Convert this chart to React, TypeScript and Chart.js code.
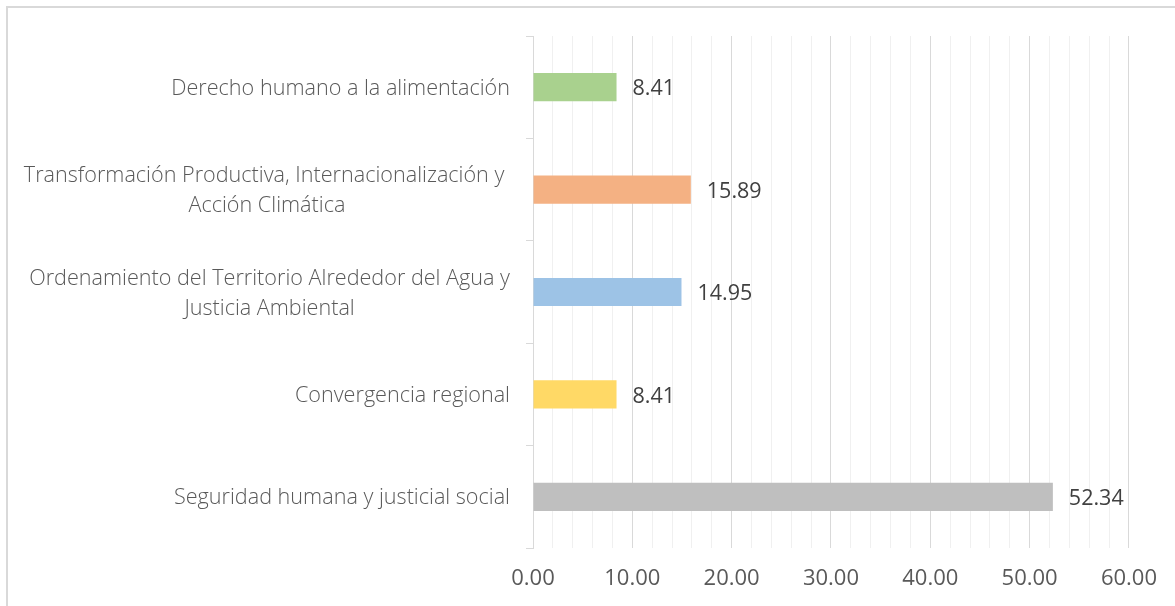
import React, { useEffect, useRef } from "react";
import { Chart, registerables } from "chart.js";

Chart.register(...registerables);

const categories: string[][] = [
  ["Derecho humano a la alimentación"],
  ["Transformación Productiva, Internacionalización y ", "Acción Climática"],
  ["Ordenamiento del Territorio Alrededor del Agua y", "Justicia Ambiental"],
  ["Convergencia regional"],
  ["Seguridad humana y justicial social"],
];
const values: number[] = [8.41, 15.89, 14.95, 8.41, 52.34];
const barColors: string[] = ["#a9d18e", "#f4b183", "#9dc3e6", "#ffd966", "#bfbfbf"];
const xTickLabels: string[] = ["0.00", "10.00", "20.00", "30.00", "40.00", "50.00", "60.00"];

const FONT = "'Open Sans', Lato, sans-serif";

export default function App() {
  const ref = useRef<HTMLCanvasElement | null>(null);

  useEffect(() => {
    document.body.style.margin = "0";
    const canvas = ref.current!;
    const framePlugin = {
      id: "frame",
      beforeDraw(chart: any) {
        const ctx = chart.ctx;
        ctx.save();
        ctx.fillStyle = "#ffffff";
        ctx.fillRect(0, 0, chart.width, chart.height);
        ctx.strokeStyle = "#d9d9d9";
        ctx.lineWidth = 2;
        ctx.beginPath();
        ctx.moveTo(7, chart.height);
        ctx.lineTo(7, 7);
        ctx.lineTo(chart.width, 7);
        ctx.stroke();
        ctx.restore();
      },
    };
    const labelPlugin = {
      id: "labels",
      afterDraw(chart: any) {
        const ctx = chart.ctx;
        const yScale = chart.scales.y;
        ctx.save();
        ctx.font = `300 21.6px ${FONT}`;
        ctx.fillStyle = "#595959";
        ctx.textBaseline = "middle";
        ctx.textAlign = "center";
        const right = yScale.right - 23;
        const lh = 30;
        categories.forEach((lines, i) => {
          const cy = yScale.getPixelForTick(i) + 1.5;
          const maxW = Math.max(...lines.map((l) => ctx.measureText(l).width));
          const cx = right - maxW / 2;
          const y0 = cy - ((lines.length - 1) * lh) / 2;
          lines.forEach((l, j) => ctx.fillText(l, cx, y0 + j * lh));
        });
        // value labels
        const meta = chart.getDatasetMeta(0);
        ctx.font = `21.5px ${FONT}`;
        ctx.fillStyle = "#404040";
        ctx.textAlign = "left";
        meta.data.forEach((bar: any, i: number) => {
          ctx.fillText(values[i].toFixed(2), bar.x + 16, bar.y + 2);
        });
        ctx.restore();
      },
    };

    const chart = new Chart(canvas, {
      type: "bar",
      data: {
        labels: categories.map((c) => c.join(" ")),
        datasets: [
          {
            data: values,
            backgroundColor: barColors,
            borderWidth: 0,
            barPercentage: 0.55,
            categoryPercentage: 0.5,
          },
        ],
      },
      options: {
        indexAxis: "y",
        animation: false,
        responsive: false,
        maintainAspectRatio: false,
        layout: { padding: { left: 0, right: 46, top: 36, bottom: 0 } },
        plugins: {
          legend: { display: false },
          tooltip: { enabled: false },
        },
        scales: {
          x: {
            min: 0,
            max: 60,
            border: { display: false },
            ticks: {
              stepSize: 2,
              autoSkip: false,
              maxRotation: 0,
              padding: 18,
              color: "#595959",
              font: { family: FONT, size: 22 },
              callback: (v: any) => {
                const n = Number(v);
                return n % 10 === 0 ? xTickLabels[n / 10] : "";
              },
            },
            grid: {
              drawTicks: false,
              lineWidth: 1,
              color: (c: any) => (c.tick && c.tick.value % 10 === 0 ? "#d9d9d9" : "#f0f0f0"),
            },
            afterFit: (s: any) => {
              s.height = 58;
            },
          },
          y: {
            border: { display: true, color: "#d9d9d9", width: 1 },
            ticks: { display: false },
            grid: {
              drawOnChartArea: false,
              drawTicks: true,
              tickLength: 7,
              color: "#d9d9d9",
              offset: true,
            },
            afterFit: (s: any) => {
              s.width = 533;
            },
          },
        },
      },
      plugins: [framePlugin, labelPlugin],
    });
    return () => chart.destroy();
  }, []);

  return (
    <div style={{ width: 1175, height: 606 }}>
      <canvas ref={ref} width={1175} height={606} style={{ display: "block" }} />
    </div>
  );
}
